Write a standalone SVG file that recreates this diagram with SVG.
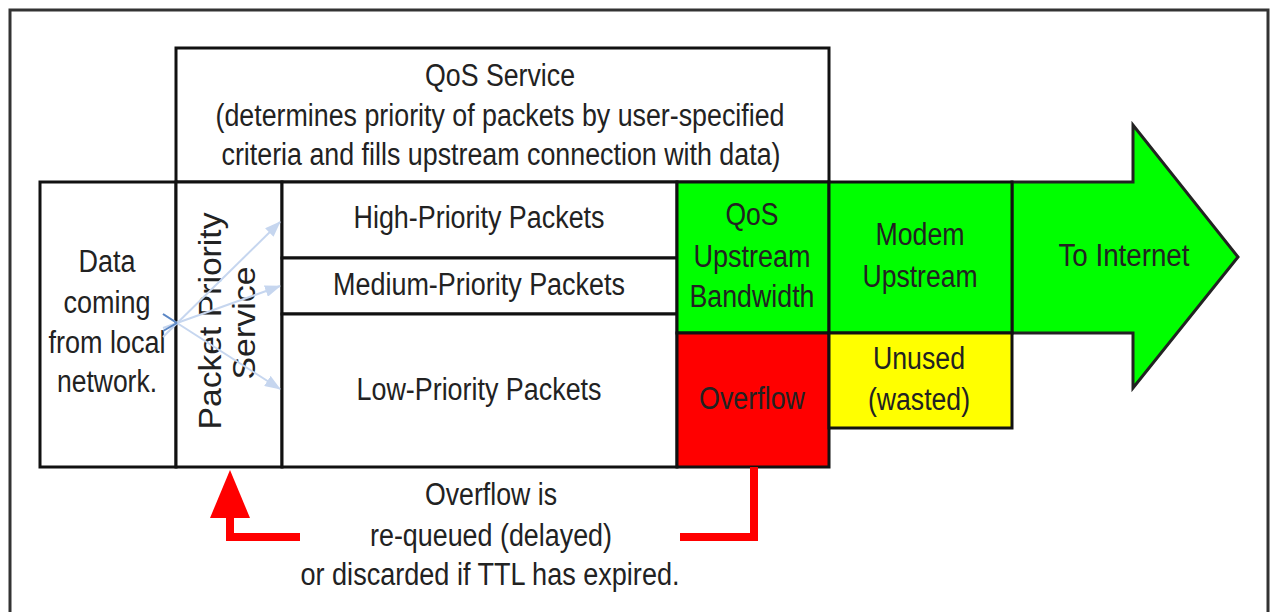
<svg xmlns="http://www.w3.org/2000/svg" width="1275" height="612" viewBox="0 0 1275 612">
<style>
.t{font-family:"Liberation Sans",Arial,sans-serif;font-size:31px;fill:#222;text-anchor:middle}
.box{stroke:#111;stroke-width:3}
.blue{stroke:#c6d6ef;stroke-width:2;fill:none}
.redline{fill:none;stroke:#ff0000;stroke-width:8}
</style>
<defs>
<marker id="bh" viewBox="0 0 16 12" refX="15" refY="6" markerWidth="16" markerHeight="12" markerUnits="userSpaceOnUse" orient="auto">
<path d="M0,0 L16,6 L0,12 z" fill="#c6d6ef"/>
</marker>
</defs>
<rect x="0" y="0" width="1275" height="612" fill="#ffffff"/>
<rect id="frame" x="10" y="10" width="1258" height="620" fill="#ffffff" stroke="#333" stroke-width="3"/>

<g id="qos-service">
<rect x="176" y="48" width="653" height="134" fill="#fff" class="box" stroke="#222"/>
<text class="t" x="500" y="86" textLength="150" lengthAdjust="spacingAndGlyphs">QoS Service</text>
<text class="t" x="500" y="126" textLength="569" lengthAdjust="spacingAndGlyphs">(determines priority of packets by user-specified</text>
<text class="t" x="501" y="165" textLength="559" lengthAdjust="spacingAndGlyphs">criteria and fills upstream connection with data)</text>
</g>

<g id="arrow-internet">
<path d="M1012,182 L1133,182 L1133,125 L1238,257 L1133,388 L1133,333 L1012,333 z" fill="#00ff00" stroke="#222" stroke-width="3" stroke-linejoin="miter"/>
<text class="t" x="1124" y="266" textLength="131" lengthAdjust="spacingAndGlyphs" fill="#0a2a0a">To Internet</text>
</g>

<g id="data-source">
<rect x="40" y="182" width="136" height="285" fill="#fff" class="box"/>
<text class="t" x="107" y="272" textLength="57" lengthAdjust="spacingAndGlyphs">Data</text>
<text class="t" x="107" y="313" textLength="87" lengthAdjust="spacingAndGlyphs">coming</text>
<text class="t" x="107" y="353" textLength="117" lengthAdjust="spacingAndGlyphs">from local</text>
<text class="t" x="107" y="392" textLength="100" lengthAdjust="spacingAndGlyphs">network.</text>
</g>

<g id="packet-priority">
<rect x="176" y="182" width="106" height="285" fill="#fff" class="box"/>
<text class="t" transform="translate(221,321) rotate(-90)" x="0" y="0" textLength="217" lengthAdjust="spacingAndGlyphs">Packet Priority</text>
<text class="t" transform="translate(255,323) rotate(-90)" x="0" y="0" textLength="113" lengthAdjust="spacingAndGlyphs">Service</text>
</g>

<g id="high">
<rect x="282" y="182" width="395" height="76" fill="#fff" class="box"/>
<text class="t" x="479" y="228" textLength="251" lengthAdjust="spacingAndGlyphs">High-Priority Packets</text>
</g>
<g id="medium">
<rect x="282" y="258" width="395" height="56" fill="#fff" class="box"/>
<text class="t" x="479" y="295" textLength="292" lengthAdjust="spacingAndGlyphs">Medium-Priority Packets</text>
</g>
<g id="low">
<rect x="282" y="314" width="395" height="153" fill="#fff" class="box"/>
<text class="t" x="479" y="400" textLength="245" lengthAdjust="spacingAndGlyphs">Low-Priority Packets</text>
</g>

<g id="qos-upstream">
<rect x="677" y="182" width="152" height="151" fill="#00ff00" class="box"/>
<text class="t" x="752" y="225" textLength="53" lengthAdjust="spacingAndGlyphs" fill="#0a2a0a">QoS</text>
<text class="t" x="752" y="267" textLength="117" lengthAdjust="spacingAndGlyphs" fill="#0a2a0a">Upstream</text>
<text class="t" x="752" y="307" textLength="125" lengthAdjust="spacingAndGlyphs" fill="#0a2a0a">Bandwidth</text>
</g>
<g id="overflow">
<rect x="677" y="333" width="152" height="134" fill="#ff0000" class="box"/>
<text class="t" x="752" y="409" textLength="106" lengthAdjust="spacingAndGlyphs" fill="#4a0000">Overflow</text>
</g>
<g id="modem-upstream">
<rect x="829" y="182" width="183" height="151" fill="#00ff00" class="box"/>
<text class="t" x="920" y="245" textLength="89" lengthAdjust="spacingAndGlyphs" fill="#0a2a0a">Modem</text>
<text class="t" x="920" y="287" textLength="115" lengthAdjust="spacingAndGlyphs" fill="#0a2a0a">Upstream</text>
</g>
<g id="unused">
<rect x="829" y="333" width="183" height="95" fill="#ffff00" class="box"/>
<text class="t" x="919" y="369" textLength="92" lengthAdjust="spacingAndGlyphs" fill="#2a2a00">Unused</text>
<text class="t" x="919" y="410" textLength="102" lengthAdjust="spacingAndGlyphs" fill="#2a2a00">(wasted)</text>
</g>

<g id="connectors">
<line class="blue" x1="163" y1="337" x2="280" y2="222" marker-end="url(#bh)"/>
<line class="blue" x1="163" y1="328" x2="280" y2="286" marker-end="url(#bh)"/>
<line class="blue" x1="163" y1="314" x2="280" y2="389" marker-end="url(#bh)"/>
<line x1="163" y1="314" x2="177" y2="323" stroke="#5b87c5" stroke-width="2"/>
<line x1="163" y1="331" x2="177" y2="323" stroke="#5b87c5" stroke-width="2"/>
<path class="redline" d="M754,467 L754,537 L680,537"/>
<path class="redline" d="M300,537 L230,537 L230,516"/>
<path d="M230,470 L250,518 L210,518 z" fill="#ff0000"/>
</g>

<g id="note">
<text class="t" x="491" y="505" textLength="132" lengthAdjust="spacingAndGlyphs">Overflow is</text>
<text class="t" x="491" y="546" textLength="242" lengthAdjust="spacingAndGlyphs">re-queued (delayed)</text>
<text class="t" x="490" y="585" textLength="379" lengthAdjust="spacingAndGlyphs">or discarded if TTL has expired.</text>
</g>
</svg>
